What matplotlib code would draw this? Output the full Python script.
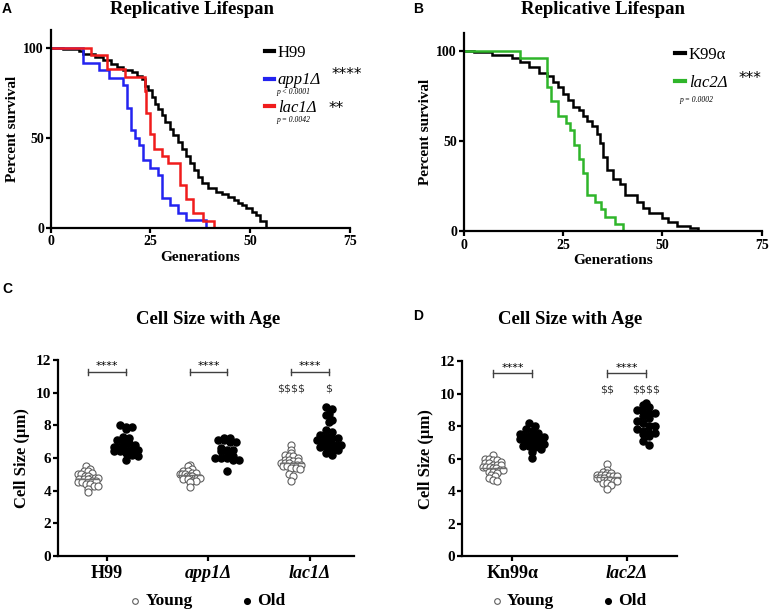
import numpy as np
import matplotlib.pyplot as plt

plt.rcParams['font.family'] = ['Liberation Serif', 'DejaVu Serif']
plt.rcParams['axes.linewidth'] = 1.6
plt.rcParams['xtick.major.width'] = 1.6
plt.rcParams['ytick.major.width'] = 1.6
plt.rcParams['xtick.major.size'] = 3.5
plt.rcParams['ytick.major.size'] = 3.5
plt.rcParams['xtick.major.pad'] = 2
plt.rcParams['ytick.major.pad'] = 1.5

# ---- survival curves (generation, percent surviving) ----
h99_t = [0, 3, 7, 8, 11, 13, 15, 16.5, 18, 20.3, 21.5, 22.8, 23.6, 24.4, 25.3, 26.1, 27, 27.8, 28.6, 29.8,
         30.7, 31.9, 33, 34, 35, 36, 37, 38, 39.5, 41.5, 43, 44.5, 46, 47, 48, 49, 50.5, 51.5, 52.5, 54]
h99_s = [100, 99.4, 98.5, 96.7, 94.8, 93, 91, 89.2, 87.8, 86.5, 84.6, 82.8, 79, 76.3, 72.6, 68.9, 66.2, 62.5, 58.8, 55.1,
         51.4, 47.7, 44, 40, 36, 32, 28, 25, 22, 20, 18.5, 17, 15.5, 14, 12.5, 11, 9, 7, 4, 0]
app1_t = [0, 8, 12, 14.5, 18, 19, 20, 21, 22, 23, 25, 27, 28, 30, 32, 34, 39]
app1_s = [100, 91.7, 87.5, 83.3, 79.2, 66.7, 54.2, 50, 45.8, 37.5, 33.3, 29.2, 16.7, 12.5, 8.3, 4.2, 0]
lac1_t = [0, 10, 14, 18.5, 23.5, 24, 25, 26, 28, 29.5, 32.5, 34, 35.7, 38.2, 41]
lac1_s = [100, 96, 88, 84, 76, 64, 52, 44, 40, 36, 24, 16, 8, 4, 0]

k99_t = [0, 2.5, 7, 12, 14, 16.5, 19, 21, 22.5, 23.7, 25, 26.3, 27.5, 29, 30, 31, 32.2, 33.4, 34.2, 35,
         36, 37.6, 39.3, 40.5, 43.5, 45, 46.5, 50, 51.5, 53.6, 56.9, 59]
k99_s = [100, 99.3, 98, 96, 94, 91, 88, 86, 83, 80, 76, 72.8, 69, 67, 64, 61, 58.5, 54, 49, 41,
         34, 29, 26, 20, 16, 13, 10, 7, 5, 3, 1.5, 0]
lac2_t = [0, 14, 21, 22, 23.7, 25.8, 26.7, 27.7, 29, 30, 31, 33, 34.5, 35.5, 38, 40]
lac2_s = [100, 96, 80, 72, 64, 60, 56, 48, 40, 32, 20, 16, 12, 8, 4, 0]

# ---- cell sizes (um) ----
strains_c = ['H99', 'app1Δ', 'lac1Δ']
young_c = [
    [5.5, 5.3, 5.2, 5.2, 5.1, 5.0, 5.0, 4.9, 4.9, 4.8, 4.8, 4.8, 4.7, 4.7, 4.7, 4.6, 4.6, 4.5, 4.5, 4.4, 4.4, 4.3, 4.3, 4.1, 3.9],
    [5.6, 5.5, 5.3, 5.2, 5.2, 5.1, 5.1, 5.0, 5.0, 5.0, 4.9, 4.9, 4.9, 4.8, 4.8, 4.8, 4.7, 4.7, 4.6, 4.6, 4.5, 4.2],
    [6.8, 6.5, 6.3, 6.2, 6.1, 6.1, 6.0, 5.9, 5.9, 5.8, 5.8, 5.7, 5.7, 5.7, 5.6, 5.6, 5.6, 5.5, 5.5, 5.4, 5.4, 5.3, 5.0, 4.9, 4.6],
]
old_c = [
    [8.0, 7.9, 7.9, 7.8, 7.3, 7.2, 7.1, 7.0, 6.9, 6.8, 6.7, 6.6, 6.6, 6.5, 6.5, 6.5, 6.4, 6.4, 6.3, 6.2, 6.1, 5.9],
    [7.2, 7.2, 7.1, 7.1, 7.0, 7.0, 6.6, 6.5, 6.5, 6.4, 6.3, 6.1, 6.0, 6.0, 6.0, 5.9, 5.9, 5.2],
    [9.1, 9.0, 8.7, 8.6, 8.3, 8.2, 7.7, 7.6, 7.4, 7.3, 7.2, 7.2, 7.1, 7.0, 6.9, 6.9, 6.8, 6.8, 6.7, 6.7, 6.6, 6.5, 6.3, 6.2],
]
young_sig_c = ['', '', r'\$\$\$\$']
old_sig_c = ['', '', r'\$']

strains_d = ['Kn99α', 'lac2Δ']
young_d = [
    [6.2, 6.0, 6.0, 5.9, 5.9, 5.8, 5.7, 5.7, 5.6, 5.6, 5.6, 5.5, 5.5, 5.5, 5.4, 5.4, 5.3, 5.3, 5.2, 5.2, 5.1, 5.0, 4.9, 4.8, 4.7, 4.6],
    [5.65, 5.3, 5.2, 5.1, 5.1, 5.0, 5.0, 5.0, 4.9, 4.9, 4.9, 4.8, 4.8, 4.8, 4.7, 4.7, 4.6, 4.6, 4.5, 4.5, 4.4, 4.1],
]
old_d = [
    [8.2, 8.0, 7.8, 7.7, 7.6, 7.5, 7.4, 7.4, 7.3, 7.3, 7.2, 7.2, 7.1, 7.1, 7.0, 7.0, 7.0, 6.9, 6.9, 6.8, 6.8, 6.7, 6.6, 6.4, 6.05],
    [9.45, 9.3, 9.2, 9.0, 8.9, 8.8, 8.8, 8.6, 8.5, 8.3, 8.2, 8.0, 8.0, 7.8, 7.7, 7.6, 7.6, 7.5, 7.4, 7.1, 6.85],
]
young_sig_d = ['', r'\$\$']
old_sig_d = ['', r'\$\$\$\$']


def spread(ax, vals, center, rowh, sp, maxw):
    # GraphPad-like scatter: points in the same row sit side by side
    p0 = ax.transData.transform((0, 0))
    p1 = ax.transData.transform((1, 1))
    ppx, ppy = p1[0] - p0[0], p1[1] - p0[1]
    vals = np.asarray(vals, float)
    rows = np.round(vals * ppy / rowh).astype(int)
    xs = np.zeros(len(vals))
    for r in np.unique(rows):
        idx = np.where(rows == r)[0]
        n = len(idx)
        step = sp if n < 2 else min(sp, maxw / (n - 1))
        for j, i in enumerate(idx):
            xs[i] = center + (j - (n - 1) / 2) * step / ppx
    return xs


def survival(ax, curves, legend_anchor):
    for t, s, c, lab in curves:
        ax.step(t, s, where='post', color=c, lw=1.8, label=lab, solid_joinstyle='miter')
    ax.set_xlim(0, 75)
    ax.set_ylim(0, 110)
    ax.set_xticks([0, 25, 50, 75])
    ax.set_yticks([0, 50, 100])
    for sp in ['top', 'right']:
        ax.spines[sp].set_visible(False)
    ax.tick_params(labelsize=10)
    for lb in ax.get_xticklabels() + ax.get_yticklabels():
        lb.set_fontweight('bold')
    ax.set_xlabel('Generations', fontsize=11, fontweight='bold', labelpad=2)
    ax.set_ylabel('Percent survival', fontsize=11, fontweight='bold', labelpad=3)
    leg = ax.legend(loc='upper left', bbox_to_anchor=legend_anchor, frameon=False, fontsize=12,
                    handlelength=0.55, handletextpad=0.25, labelspacing=0.7, borderpad=0, borderaxespad=0)
    for line in leg.get_lines():
        line.set_linewidth(3)
    for txt in leg.get_texts()[1:]:
        txt.set_fontstyle('italic')


def cellsize(ax, strains, young, old, ysig, osig, off, xlim, lx):
    ax.set_xlim(*xlim)
    ax.set_ylim(0, 12)
    pos = np.arange(len(strains))
    for i in pos:
        xy = spread(ax, young[i], i - off, 4.0, 4.2, 20)
        xo = spread(ax, old[i], i + off, 6.0, 6.0, 24)
        ax.scatter(xy, young[i], s=26, facecolor='white', edgecolor='#606060', linewidth=0.8, zorder=3,
                   label='Young' if i == 0 else None)
        ax.plot([i - off - 0.11, i - off + 0.11], [np.mean(young[i])] * 2, color='#707070', lw=1, zorder=4)
        ax.scatter(xo, old[i], s=26, color='black', zorder=3, label='Old' if i == 0 else None)
        ax.plot([i + off - 0.08, i + off + 0.08], [np.mean(old[i])] * 2, color='black', lw=1, zorder=4)
        # significance bracket
        ax.plot([i - off, i + off], [11.25, 11.25], color='#404040', lw=1)
        for xx in (i - off, i + off):
            ax.plot([xx, xx], [11.05, 11.45], color='#404040', lw=1)
        ax.text(i, 11.3, '****', ha='center', va='bottom', fontsize=8, family=['DejaVu Sans'])
        ax.text(i - off, 10.25, ysig[i], ha='center', va='center', fontsize=8, family=['DejaVu Sans'], color='#333333')
        ax.text(i + off, 10.25, osig[i], ha='center', va='center', fontsize=8, family=['DejaVu Sans'], color='#333333')
    ax.set_xticks(pos)
    ax.set_xticklabels(strains, fontsize=13, fontweight='bold')
    for lb, name in zip(ax.get_xticklabels(), strains):
        if 'Δ' in name:
            lb.set_fontstyle('italic')
    ax.set_yticks(range(0, 13, 2))
    ax.tick_params(axis='y', labelsize=11)
    for lb in ax.get_yticklabels():
        lb.set_fontweight('bold')
    ax.tick_params(axis='x', pad=3)
    for sp in ['top', 'right']:
        ax.spines[sp].set_visible(False)
    ax.set_ylabel('Cell Size (μm)', fontsize=12, fontweight='bold', labelpad=4)
    ax.legend(loc='upper center', bbox_to_anchor=(lx, -0.145), ncol=2, frameon=False,
              prop={'weight': 'bold', 'size': 12.5}, markerscale=0.8, handletextpad=0.1, columnspacing=2.6,
              borderpad=0, handlelength=1.0)


fig = plt.figure(figsize=(7.7, 6.09), dpi=100)
axA = fig.add_axes([0.066, 0.626, 0.3883, 0.325])
axB = fig.add_axes([0.6026, 0.6207, 0.3866, 0.325])
axC = fig.add_axes([0.0757, 0.087, 0.384, 0.322])
axD = fig.add_axes([0.6004, 0.087, 0.2784, 0.320])

survival(axA, [(h99_t, h99_s, 'black', 'H99'), (app1_t, app1_s, '#2323f0', 'app1Δ'),
               (lac1_t, lac1_s, '#f01c1c', 'lac1Δ')], (0.715, 0.925))
axA.text(0.755, 0.684, 'p < 0.0001', transform=axA.transAxes, fontsize=5.5, fontstyle='italic', va='center')
axA.text(0.755, 0.542, 'p = 0.0042', transform=axA.transAxes, fontsize=5.5, fontstyle='italic', va='center')
axA.text(0.99, 0.775, '****', transform=axA.transAxes, fontsize=11, ha='center', va='center', family=['DejaVu Sans'])
axA.text(0.955, 0.605, '**', transform=axA.transAxes, fontsize=11, ha='center', va='center', family=['DejaVu Sans'])

survival(axB, [(k99_t, k99_s, 'black', 'K99α'), (lac2_t, lac2_s, '#2fb52a', 'lac2Δ')], (0.71, 0.93))
axB.text(0.725, 0.66, 'p = 0.0002', transform=axB.transAxes, fontsize=5.5, fontstyle='italic', va='center')
axB.text(0.96, 0.77, '***', transform=axB.transAxes, fontsize=11, ha='center', va='center', family=['DejaVu Sans'])

cellsize(axC, strains_c, young_c, old_c, young_sig_c, old_sig_c, 0.185, (-0.476, 2.43), 0.5)
cellsize(axD, strains_d, young_d, old_d, young_sig_d, old_sig_d, 0.17, (-0.44, 1.44), 0.49)

# titles and panel letters
for x, y, s in [(192, 9, 'Replicative Lifespan'), (603, 9, 'Replicative Lifespan'),
                (208, 320, 'Cell Size with Age'), (570, 320, 'Cell Size with Age')]:
    fig.text(x / 770, 1 - y / 609, s, ha='center', va='center', fontsize=13.5, fontweight='bold')
for x, y, s in [(7, 9, 'A'), (418, 9, 'B'), (7, 289, 'C'), (418, 316, 'D')]:
    fig.text(x / 770, 1 - y / 609, s, ha='center', va='center', fontsize=10, fontweight='bold',
             family=['Liberation Sans', 'DejaVu Sans'])

fig.savefig('out.png', dpi=100)
